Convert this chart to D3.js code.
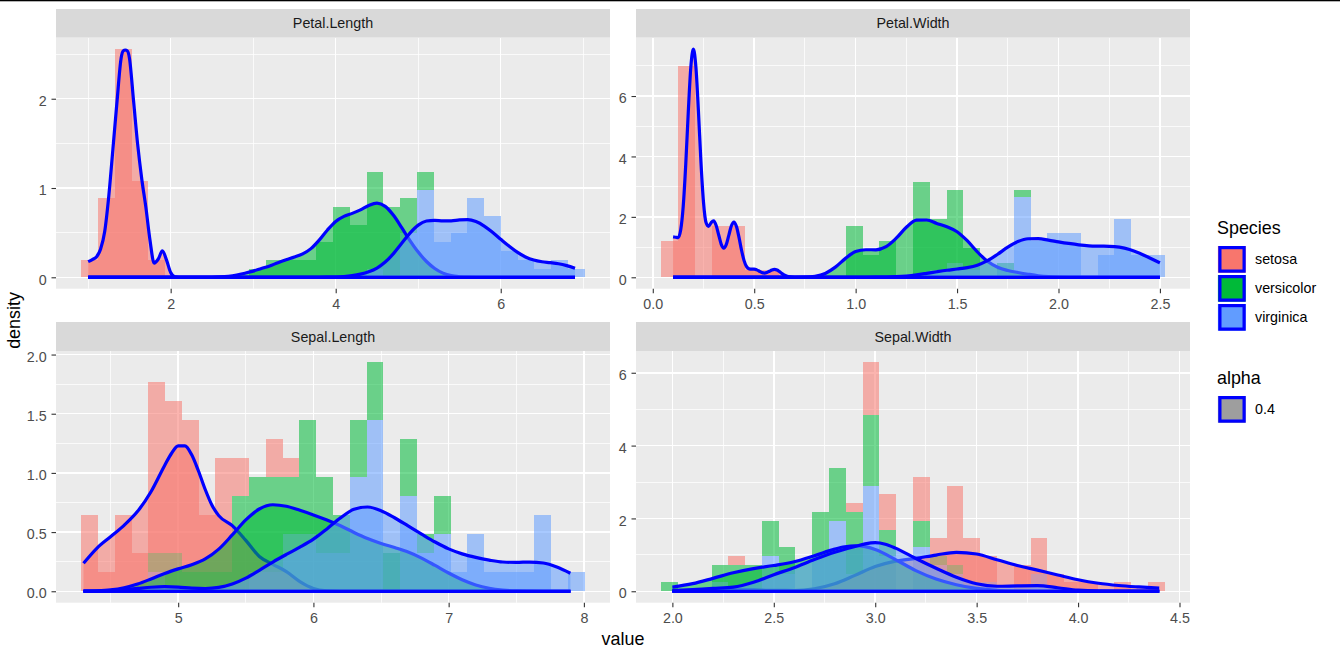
<!DOCTYPE html>
<html><head><meta charset="utf-8">
<script src="https://cdn.jsdelivr.net/npm/d3@7"></script>
<style>body{margin:0;background:#fff;}svg{display:block;font-family:"Liberation Sans",Arial,sans-serif;}</style>
</head><body><svg id="chart" width="1340" height="658"></svg>
<script>
// ---------------- DATA ----------------
const species = ["setosa","versicolor","virginica"];
const speciesColors = ["#F8766D","#00BA38","#619CFF"];
const facetNames = ["Petal.Length","Petal.Width","Sepal.Length","Sepal.Width"];
const groupSize = 50;
// histogram bins (30 per facet): left edge of first bin and bin width
const binStart = [0.915517, 0.041379, 4.282759, 1.944828];
const binWidth = [0.203448, 0.082759, 0.124138, 0.082759];

// counts per bin
const plSetosaCounts     = [2,9,26,11,2,0,0,0,0,0,0,0,0,0,0,0,0,0,0,0,0,0,0,0,0,0,0,0,0,0];
const plVersicolorCounts = [0,0,0,0,0,0,0,0,0,0,1,2,2,2,4,8,6,11,8,4,2,0,0,0,0,0,0,0,0,0];
const plVirginicaCounts  = [0,0,0,0,0,0,0,0,0,0,0,0,0,0,0,0,0,1,0,5,10,4,5,9,7,3,2,1,2,1];
const pwSetosaCounts     = [5,29,0,7,7,1,1,0,0,0,0,0,0,0,0,0,0,0,0,0,0,0,0,0,0,0,0,0,0,0];
const pwVersicolorCounts = [0,0,0,0,0,0,0,0,0,0,0,7,3,5,0,13,7,10,3,0,1,1,0,0,0,0,0,0,0,0];
const pwVirginicaCounts  = [0,0,0,0,0,0,0,0,0,0,0,0,0,0,0,0,1,2,1,0,1,11,5,6,6,0,3,8,3,3];
const slSetosaCounts     = [4,1,4,2,9,8,8,3,6,2,0,2,1,0,0,0,0,0,0,0,0,0,0,0,0,0,0,0,0,0];
const slVersicolorCounts = [0,0,0,0,1,2,1,1,1,5,5,5,3,6,4,2,3,3,2,3,1,2,0,0,0,0,0,0,0,0];
const slVirginicaCounts  = [0,0,0,0,1,0,0,0,0,0,1,1,3,3,2,2,6,9,0,5,2,3,1,3,1,1,1,4,0,1];
const swSetosaCounts     = [0,0,0,0,1,0,0,0,0,0,0,1,6,4,0,5,2,9,6,3,0,3,4,2,1,1,0,1,0,1];
const swVersicolorCounts = [1,0,0,2,3,3,4,3,0,5,6,7,8,3,0,3,1,1,0,0,0,0,0,0,0,0,0,0,0,0];
const swVirginicaCounts  = [0,0,0,1,0,0,4,2,0,4,8,2,12,4,0,5,3,2,0,1,0,0,2,0,0,0,0,0,0,0];

// density curves [value, density]
const plSetosaDensity = [[1.0,0.175],[1.05,0.199],[1.1,0.228],[1.15,0.313],[1.2,0.509],[1.25,0.909],[1.3,1.436],[1.35,1.972],[1.4,2.457],[1.425,2.536],[1.45,2.546],[1.475,2.536],[1.5,2.457],[1.55,1.978],[1.6,1.488],[1.65,1.099],[1.7,0.78],[1.75,0.412],[1.8,0.159],[1.85,0.205],[1.9,0.297],[1.95,0.193],[2.0,0.053],[2.05,0.006],[2.1,0],[6.9,0]];
const plVersicolorDensity = [[1.0,0],[2.5,0],[2.6,0.004],[2.7,0.012],[2.8,0.026],[2.9,0.046],[3.0,0.069],[3.1,0.099],[3.2,0.127],[3.3,0.164],[3.4,0.197],[3.5,0.227],[3.6,0.262],[3.7,0.321],[3.8,0.416],[3.9,0.53],[4.0,0.626],[4.1,0.682],[4.2,0.716],[4.3,0.755],[4.4,0.804],[4.5,0.83],[4.6,0.794],[4.7,0.694],[4.8,0.556],[4.9,0.411],[5.0,0.282],[5.1,0.177],[5.2,0.099],[5.3,0.047],[5.4,0.018],[5.5,0.006],[5.6,0.001],[5.7,0],[6.9,0]];
const plVirginicaDensity = [[1.0,0],[3.8,0],[3.9,0.001],[4.0,0.003],[4.1,0.008],[4.2,0.018],[4.3,0.035],[4.4,0.062],[4.5,0.104],[4.6,0.171],[4.7,0.265],[4.8,0.38],[4.9,0.495],[5.0,0.584],[5.1,0.63],[5.2,0.638],[5.3,0.632],[5.4,0.633],[5.5,0.643],[5.6,0.646],[5.7,0.624],[5.8,0.574],[5.9,0.504],[6.0,0.426],[6.1,0.35],[6.2,0.281],[6.3,0.228],[6.4,0.193],[6.5,0.174],[6.6,0.164],[6.7,0.152],[6.8,0.131],[6.9,0.102]];

const pwSetosaDensity = [[0.1,1.337],[0.1125,1.325],[0.125,1.314],[0.1375,1.565],[0.15,2.347],[0.1625,3.737],[0.175,5.477],[0.1875,6.958],[0.2,7.553],[0.2125,6.967],[0.225,5.503],[0.2375,3.803],[0.25,2.484],[0.2625,1.812],[0.275,1.687],[0.2875,1.806],[0.3,1.866],[0.3125,1.715],[0.325,1.40],[0.3375,1.092],[0.35,0.966],[0.3625,1.092],[0.375,1.398],[0.3875,1.705],[0.4,1.829],[0.4125,1.68],[0.425,1.319],[0.4375,0.895],[0.45,0.552],[0.4625,0.352],[0.475,0.279],[0.4875,0.27],[0.5,0.27],[0.5125,0.246],[0.525,0.2],[0.5375,0.156],[0.55,0.138],[0.5625,0.156],[0.575,0.2],[0.5875,0.244],[0.6,0.261],[0.6125,0.239],[0.625,0.187],[0.6375,0.123],[0.65,0.069],[0.6625,0.033],[0.675,0.013],[0.6875,0.0045],[0.7,0.0013],[0.75,0],[2.5,0]];
const pwVersicolorDensity = [[0.1,0],[0.65,0],[0.7,0.001],[0.75,0.006],[0.8,0.034],[0.85,0.128],[0.9,0.337],[0.95,0.626],[1.0,0.85],[1.05,0.912],[1.1,0.91],[1.15,1.014],[1.2,1.295],[1.25,1.655],[1.3,1.89],[1.35,1.897],[1.4,1.784],[1.45,1.672],[1.5,1.508],[1.55,1.211],[1.6,0.841],[1.65,0.528],[1.7,0.331],[1.75,0.225],[1.8,0.16],[1.85,0.102],[1.9,0.051],[1.95,0.019],[2.0,0.005],[2.05,0.001],[2.1,0],[2.5,0]];
const pwVirginicaDensity = [[0.1,0],[0.95,0],[1.0,0.0001],[1.05,0.0006],[1.1,0.0024],[1.15,0.0073],[1.2,0.019],[1.25,0.042],[1.3,0.0795],[1.35,0.13],[1.4,0.184],[1.45,0.234],[1.5,0.275],[1.55,0.321],[1.6,0.402],[1.65,0.549],[1.7,0.762],[1.75,0.997],[1.8,1.183],[1.85,1.275],[1.9,1.277],[1.95,1.232],[2.0,1.174],[2.05,1.121],[2.1,1.075],[2.15,1.043],[2.2,1.031],[2.25,1.026],[2.3,0.997],[2.35,0.92],[2.4,0.794],[2.45,0.64],[2.5,0.48]];

const slSetosaDensity = [[4.3,0.236],[4.4,0.365],[4.5,0.461],[4.6,0.557],[4.7,0.675],[4.8,0.843],[4.9,1.063],[4.95,1.164],[5.0,1.229],[5.05,1.229],[5.1,1.153],[5.15,1.016],[5.2,0.86],[5.25,0.727],[5.3,0.639],[5.4,0.554],[5.5,0.43],[5.6,0.294],[5.7,0.228],[5.8,0.166],[5.9,0.082],[6.0,0.024],[6.1,0.004],[6.2,0],[7.9,0]];
const slVersicolorDensity = [[4.3,0.001],[4.4,0.004],[4.5,0.012],[4.6,0.030],[4.7,0.061],[4.8,0.104],[4.9,0.15],[5.0,0.189],[5.1,0.224],[5.2,0.273],[5.3,0.356],[5.4,0.476],[5.5,0.603],[5.6,0.695],[5.7,0.731],[5.8,0.718],[5.9,0.684],[6.0,0.645],[6.1,0.602],[6.2,0.553],[6.3,0.497],[6.4,0.446],[6.5,0.404],[6.6,0.369],[6.7,0.331],[6.8,0.28],[6.9,0.218],[7.0,0.154],[7.1,0.097],[7.2,0.053],[7.3,0.025],[7.4,0.01],[7.5,0.003],[7.6,0.001],[7.7,0],[7.9,0]];
const slVirginicaDensity = [[4.3,0.0006],[4.4,0.002],[4.5,0.006],[4.6,0.0135],[4.7,0.024],[4.8,0.034],[4.9,0.0386],[5.0,0.035],[5.1,0.027],[5.2,0.0235],[5.3,0.0326],[5.4,0.061],[5.5,0.111],[5.6,0.177],[5.7,0.247],[5.8,0.311],[5.9,0.372],[6.0,0.44],[6.1,0.527],[6.2,0.62],[6.3,0.692],[6.4,0.712],[6.5,0.681],[6.6,0.621],[6.7,0.552],[6.8,0.483],[6.9,0.416],[7.0,0.358],[7.1,0.316],[7.2,0.286],[7.3,0.263],[7.4,0.247],[7.5,0.244],[7.6,0.247],[7.7,0.239],[7.8,0.205],[7.9,0.152]];

const swSetosaDensity = [[2.0,0.007],[2.1,0.021],[2.2,0.043],[2.3,0.055],[2.4,0.043],[2.5,0.024],[2.6,0.021],[2.7,0.068],[2.8,0.205],[2.9,0.436],[3.0,0.677],[3.1,0.826],[3.2,0.904],[3.3,0.994],[3.4,1.069],[3.5,1.022],[3.6,0.866],[3.7,0.708],[3.8,0.58],[3.9,0.447],[4.0,0.317],[4.1,0.221],[4.2,0.159],[4.3,0.118],[4.4,0.084]];
const swVersicolorDensity = [[2.0,0.113],[2.1,0.208],[2.2,0.354],[2.3,0.508],[2.4,0.623],[2.5,0.708],[2.6,0.811],[2.7,0.975],[2.8,1.157],[2.85,1.222],[2.9,1.25],[2.95,1.226],[3.0,1.147],[3.1,0.87],[3.2,0.568],[3.3,0.337],[3.4,0.18],[3.5,0.078],[3.6,0.024],[3.7,0.005],[3.8,0],[4.4,0]];
const swVirginicaDensity = [[2.0,0.015],[2.1,0.048],[2.2,0.079],[2.3,0.114],[2.4,0.247],[2.5,0.455],[2.6,0.648],[2.7,0.873],[2.8,1.073],[2.9,1.229],[2.95,1.30],[3.0,1.333],[3.05,1.292],[3.1,1.185],[3.2,0.9],[3.3,0.632],[3.4,0.385],[3.5,0.206],[3.6,0.138],[3.7,0.148],[3.8,0.154],[3.9,0.097],[4.0,0.031],[4.1,0.005],[4.2,0],[4.4,0]];

// tick values and labels
const plXTicks = [2,4,6], plXLabels = ["2","4","6"], plXMinor = [1,3,5,7];
const plYTicks = [0,1,2], plYLabels = ["0","1","2"], plYMinor = [0.5,1.5,2.5];
const pwXTicks = [0,0.5,1,1.5,2,2.5], pwXLabels = ["0.0","0.5","1.0","1.5","2.0","2.5"], pwXMinor = [0.25,0.75,1.25,1.75,2.25];
const pwYTicks = [0,2,4,6], pwYLabels = ["0","2","4","6"], pwYMinor = [1,3,5,7];
const slXTicks = [5,6,7,8], slXLabels = ["5","6","7","8"], slXMinor = [4.5,5.5,6.5,7.5];
const slYTicks = [0,0.5,1,1.5,2], slYLabels = ["0.0","0.5","1.0","1.5","2.0"], slYMinor = [0.25,0.75,1.25,1.75];
const swXTicks = [2,2.5,3,3.5,4,4.5], swXLabels = ["2.0","2.5","3.0","3.5","4.0","4.5"], swXMinor = [2.25,2.75,3.25,3.75,4.25];
const swYTicks = [0,2,4,6], swYLabels = ["0","2","4","6"], swYMinor = [1,3,5];

// ---------------- BUILD ----------------
const facets = [
  {counts:[plSetosaCounts,plVersicolorCounts,plVirginicaCounts], dens:[plSetosaDensity,plVersicolorDensity,plVirginicaDensity],
   xT:plXTicks,xL:plXLabels,xM:plXMinor,yT:plYTicks,yL:plYLabels,yM:plYMinor},
  {counts:[pwSetosaCounts,pwVersicolorCounts,pwVirginicaCounts], dens:[pwSetosaDensity,pwVersicolorDensity,pwVirginicaDensity],
   xT:pwXTicks,xL:pwXLabels,xM:pwXMinor,yT:pwYTicks,yL:pwYLabels,yM:pwYMinor},
  {counts:[slSetosaCounts,slVersicolorCounts,slVirginicaCounts], dens:[slSetosaDensity,slVersicolorDensity,slVirginicaDensity],
   xT:slXTicks,xL:slXLabels,xM:slXMinor,yT:slYTicks,yL:slYLabels,yM:slYMinor},
  {counts:[swSetosaCounts,swVersicolorCounts,swVirginicaCounts], dens:[swSetosaDensity,swVersicolorDensity,swVirginicaDensity],
   xT:swXTicks,xL:swXLabels,xM:swXMinor,yT:swYTicks,yL:swYLabels,yM:swYMinor}
];
const layout = [
  {x0:56, x1:610, sy0:9, py0:37.7, py1:288.7},
  {x0:636,x1:1190,sy0:9, py0:37.7, py1:288.7},
  {x0:56, x1:610, sy0:322,py0:351, py1:602.7},
  {x0:636,x1:1190,sy0:322,py0:351, py1:602.7}
];
const FONT = '"Liberation Sans",Arial,sans-serif';
const svg = d3.select("#chart");
svg.append("rect").attr("width",1340).attr("height",658).attr("fill","#fff");
svg.append("rect").attr("x",0).attr("y",0).attr("width",1340).attr("height",1.3).attr("fill","#000");

facets.forEach((f,fi)=>{
  const L = layout[fi];
  const w = binWidth[fi], b0 = binStart[fi], b1 = b0 + 30*w;
  // stacked bars: virginica bottom, then versicolor, setosa on top
  const bars = [];
  const totals = [];
  for(let i=0;i<30;i++){
    let cum = 0;
    [2,1,0].forEach(s=>{
      const h = f.counts[s][i]/(groupSize*w);
      if(h>0){ bars.push({x0:b0+i*w, x1:b0+(i+1)*w, y0:cum, y1:cum+h, s}); }
      cum += h;
    });
    totals.push(cum);
  }
  const M = Math.max(d3.max(totals), d3.max(f.dens.flat(), d=>d[1]));
  const xr = b1-b0;
  const x = d3.scaleLinear().domain([b0-0.05*xr, b1+0.05*xr]).range([L.x0, L.x1]);
  const y = d3.scaleLinear().domain([-0.05*M, 1.05*M]).range([L.py1, L.py0]);

  // strip
  svg.append("rect").attr("x",L.x0).attr("y",L.sy0).attr("width",L.x1-L.x0).attr("height",L.py0-L.sy0).attr("fill","#D9D9D9");
  svg.append("text").attr("x",(L.x0+L.x1)/2).attr("y",(L.sy0+L.py0)/2+5.1).attr("text-anchor","middle")
    .attr("font-size",14.3).attr("font-family",FONT).attr("fill","#1A1A1A").text(facetNames[fi]);
  // panel
  svg.append("rect").attr("x",L.x0).attr("y",L.py0).attr("width",L.x1-L.x0).attr("height",L.py1-L.py0).attr("fill","#EBEBEB");
  const g = svg.append("g");
  const clipId = "clip"+fi;
  svg.append("clipPath").attr("id",clipId).append("rect").attr("x",L.x0).attr("y",L.py0).attr("width",L.x1-L.x0).attr("height",L.py1-L.py0);
  g.attr("clip-path",`url(#${clipId})`);
  // grid
  const grid = g.append("g").attr("stroke","#fff").attr("shape-rendering","crispEdges");
  f.yM.forEach(v=>grid.append("line").attr("x1",L.x0).attr("x2",L.x1).attr("y1",y(v)).attr("y2",y(v)).attr("stroke-width",0.75));
  f.xM.forEach(v=>grid.append("line").attr("y1",L.py0).attr("y2",L.py1).attr("x1",x(v)).attr("x2",x(v)).attr("stroke-width",0.75));
  f.yT.forEach(v=>grid.append("line").attr("x1",L.x0).attr("x2",L.x1).attr("y1",y(v)).attr("y2",y(v)).attr("stroke-width",1.5));
  f.xT.forEach(v=>grid.append("line").attr("y1",L.py0).attr("y2",L.py1).attr("x1",x(v)).attr("x2",x(v)).attr("stroke-width",1.5));
  // bars
  g.append("g").attr("shape-rendering","crispEdges").selectAll("rect").data(bars).join("rect")
    .attr("x",d=>x(d.x0)).attr("width",d=>x(d.x1)-x(d.x0))
    .attr("y",d=>y(d.y1)).attr("height",d=>y(d.y0)-y(d.y1))
    .attr("fill",d=>speciesColors[d.s]).attr("fill-opacity",0.55);
  // densities
  const area = d3.area().x(d=>x(d[0])).y0(y(0)).y1(d=>y(d[1])).curve(d3.curveMonotoneX);
  const line = d3.line().x(d=>x(d[0])).y(d=>y(d[1])).curve(d3.curveMonotoneX);
  f.dens.forEach((dd,s)=>{
    g.append("path").attr("d",area(dd)).attr("fill",speciesColors[s]).attr("fill-opacity",0.55);
    g.append("path").attr("d",line(dd)).attr("fill","none").attr("stroke","#0000FF").attr("stroke-width",3.2).attr("stroke-linejoin","round");
    const xa = dd[0][0], xb = dd[dd.length-1][0];
    g.append("line").attr("x1",x(xa)).attr("x2",x(xb)).attr("y1",y(0)).attr("y2",y(0)).attr("stroke","#0000FF").attr("stroke-width",3.2);
  });
  // axes
  const ax = svg.append("g").attr("transform",`translate(0,${L.py1})`)
    .call(d3.axisBottom(x).tickValues(f.xT).tickFormat((d,i)=>f.xL[i]).tickSize(4.5).tickPadding(6).tickSizeOuter(0));
  const ay = svg.append("g").attr("transform",`translate(${L.x0},0)`)
    .call(d3.axisLeft(y).tickValues(f.yT).tickFormat((d,i)=>f.yL[i]).tickSize(4.5).tickPadding(4.8).tickSizeOuter(0));
  [ax,ay].forEach(a=>{
    a.select(".domain").remove();
    a.selectAll("line").attr("stroke","#333333").attr("stroke-width",1.1);
    a.selectAll("text").attr("fill","#4D4D4D").attr("font-size",14.3).attr("font-family",FONT);
  });
  ay.selectAll("text").attr("dy","0.47em");
});

// axis titles
svg.append("text").attr("x",623).attr("y",645).attr("text-anchor","middle").attr("font-size",17.9).attr("font-family",FONT).attr("fill","#000").text("value");
svg.append("text").attr("transform","translate(20,320.5) rotate(-90)").attr("text-anchor","middle").attr("font-size",17.9).attr("font-family",FONT).attr("fill","#000").text("density");

// legend
const lg = svg.append("g").attr("font-family",FONT);
lg.append("text").attr("x",1217).attr("y",233.5).attr("font-size",17.9).attr("fill","#000").text("Species");
species.forEach((s,i)=>{
  const ky = 246 + i*29;
  lg.append("rect").attr("x",1217.9).attr("y",ky).attr("width",27.8).attr("height",26.7).attr("fill",speciesColors[i]);
  lg.append("rect").attr("x",1219.9).attr("y",ky+1.6).attr("width",24.2).attr("height",23.5)
    .attr("fill",speciesColors[i]).attr("stroke","#0000FF").attr("stroke-width",3.2);
  lg.append("text").attr("x",1255).attr("y",ky+13.35+5.1).attr("font-size",14.3).attr("fill","#000").text(s);
});
const alphaValues = ["0.4"];
lg.append("text").attr("x",1217).attr("y",383.5).attr("font-size",17.9).attr("fill","#000").text("alpha");
alphaValues.forEach((a,i)=>{
  const ky = 396 + i*29;
  lg.append("rect").attr("x",1217.9).attr("y",ky).attr("width",27.8).attr("height",26.7).attr("fill","#9E9E9E");
  lg.append("rect").attr("x",1219.9).attr("y",ky+1.6).attr("width",24.2).attr("height",23.5)
    .attr("fill","none").attr("stroke","#0000FF").attr("stroke-width",3.2);
  lg.append("text").attr("x",1255).attr("y",ky+13.35+5.1).attr("font-size",14.3).attr("fill","#000").text(a);
});
</script></body></html>
